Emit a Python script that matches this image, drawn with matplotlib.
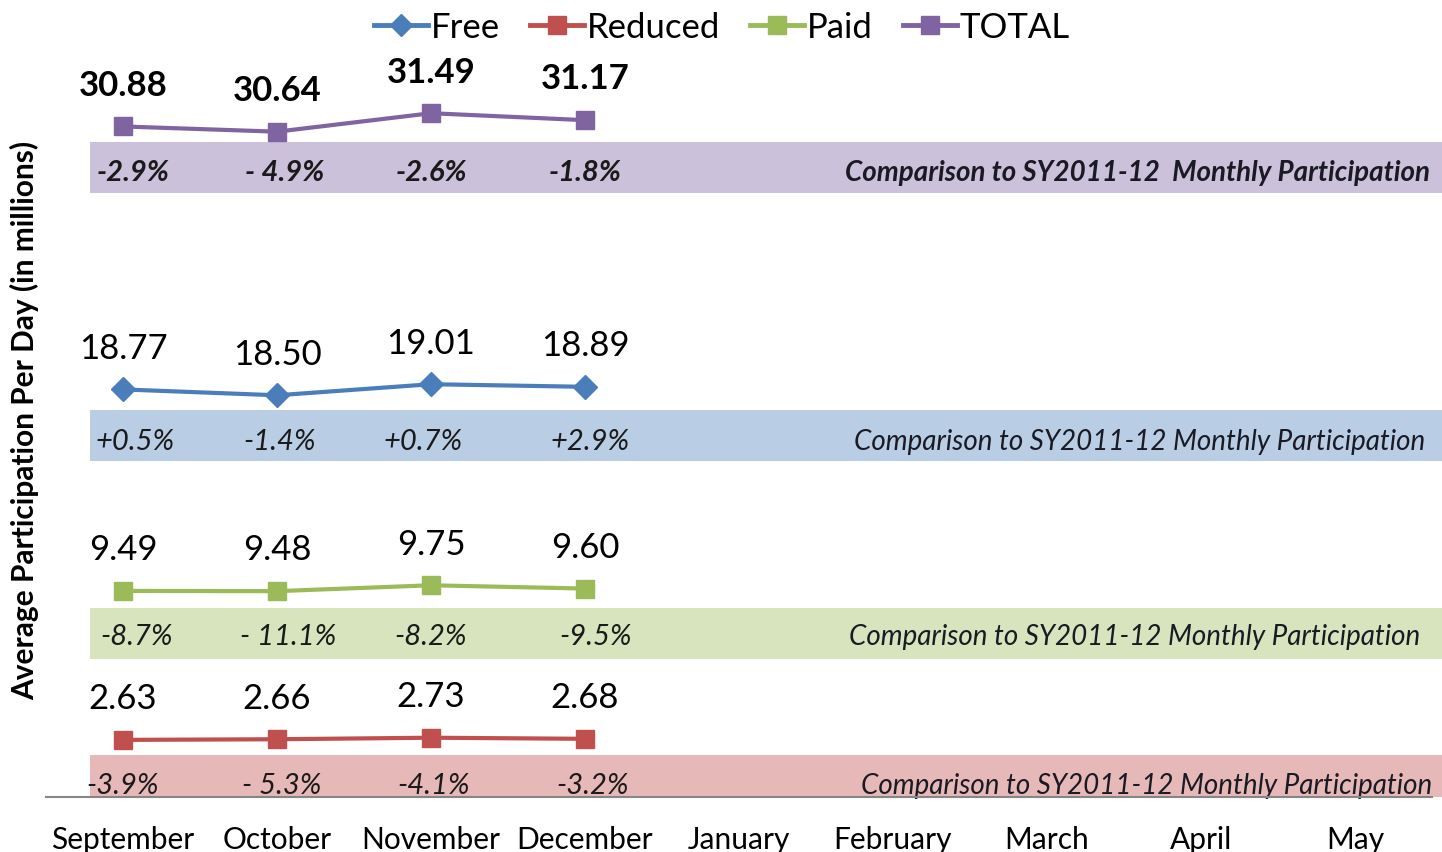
import matplotlib
matplotlib.use("Agg")
import matplotlib.pyplot as plt
from matplotlib.patches import Rectangle
from matplotlib.lines import Line2D

# ---------------- data ----------------
months = ['September', 'October', 'November', 'December', 'January',
          'February', 'March', 'April', 'May']
free = [18.77, 18.50, 19.01, 18.89]
reduced = [2.63, 2.66, 2.73, 2.68]
paid = [9.49, 9.48, 9.75, 9.60]
total = [30.88, 30.64, 31.49, 31.17]

free_pct = ['+0.5%', '-1.4%', '+0.7%', '+2.9%']
reduced_pct = ['-3.9%', '- 5.3%', '-4.1%', '-3.2%']
paid_pct = ['-8.7%', '- 11.1%', '-8.2%', '-9.5%']
total_pct = ['-2.9%', '- 4.9%', '-2.6%', '-1.8%']

comparison_label = 'Comparison to SY2011-12 Monthly Participation'
comparison_label_total = 'Comparison to SY2011-12  Monthly Participation'
y_label = 'Average Participation Per Day (in millions)'

# ---------------- style ----------------
FONT = ['Lato', 'DejaVu Sans']
plt.rcParams['font.family'] = FONT

C_FREE, C_RED, C_PAID, C_TOT = '#4A7EBB', '#C0504D', '#9BBB59', '#8064A2'
B_FREE, B_RED, B_PAID, B_TOT = '#B9CDE5', '#E6B9B8', '#D7E4BD', '#CCC1DA'

fig = plt.figure(figsize=(14.42, 8.53), dpi=100)
ax = fig.add_axes([46 / 1442, (853 - 798) / 853, 1386 / 1442, 760 / 853])
ax.set_xlim(-0.5, len(months) - 0.5)
ax.set_ylim(0, 35)

x = list(range(len(months)))
n = len(total)

# layout: values, color, marker, ms, band colour, band (lo, hi), text y,
# pct strings, pct x-offsets, comparison label, label right edge, bold
series = [
    (total, C_TOT, 's', 13, B_TOT, (27.83, 30.18), 28.8, total_pct,
     [0.065, 0.05, 0.0, 0.0], comparison_label_total, 8.487, True),
    (free, C_FREE, 'D', 12, B_FREE, (15.48, 17.83), 16.4, free_pct,
     [0.08, 0.02, -0.05, 0.03], comparison_label, 8.455, False),
    (paid, C_PAID, 's', 13, B_PAID, (6.36, 8.71), 7.4, paid_pct,
     [0.09, 0.07, 0.0, 0.07], comparison_label, 8.422, False),
    (reduced, C_RED, 's', 13, B_RED, (0.0, 1.94), 0.55, reduced_pct,
     [0.0, 0.03, 0.02, 0.05], comparison_label, 8.5, False),
]

band_x0, band_x1 = -0.214, 8.57
for (vals, col, mk, ms, bcol, (lo, hi), ty, pct, offs, clabel, cx,
     bold) in series:
    ax.add_patch(Rectangle((band_x0, lo), band_x1 - band_x0, hi - lo,
                           facecolor=bcol, edgecolor='none', zorder=1,
                           clip_on=False))
    ax.plot(x[:n], vals, color=col, lw=3, marker=mk, ms=ms, zorder=3)
    for xi, v in zip(x[:n], vals):
        ax.annotate(f'{v:.2f}', (xi, v), xytext=(0, 30),
                    textcoords='offset points', ha='center', va='center',
                    fontsize=25, fontweight='bold' if bold else 'normal',
                    color='black', zorder=4)
    for xi, s, o in zip(x[:n], pct, offs):
        ax.text(xi + o, ty, s, ha='center', va='center', fontsize=21,
                style='italic', fontweight='bold' if bold else 'normal',
                color='#1a1a1a', zorder=4)
    ax.text(cx, ty, clabel, ha='right', va='center',
            fontsize=20, style='italic',
            fontweight='bold' if bold else 'normal',
            color='#1a1a24', zorder=4, clip_on=False)

# axes styling
for sp in ('top', 'right', 'left'):
    ax.spines[sp].set_visible(False)
ax.spines['bottom'].set_color('#868686')
ax.spines['bottom'].set_linewidth(1.5)
ax.spines['bottom'].set_zorder(5)
ax.set_yticks([])
ax.set_xticks(x)
ax.set_xticklabels(months, fontsize=21.5)
ax.tick_params(axis='x', length=0, pad=20)

fig.text(25 / 1442, (853 - 420) / 853, y_label, rotation=90,
         ha='center', va='center', fontsize=21.5, fontweight='bold')

handles = [
    Line2D([], [], color=C_FREE, lw=3.5, marker='D', ms=11),
    Line2D([], [], color=C_RED, lw=3.5, marker='s', ms=13),
    Line2D([], [], color=C_PAID, lw=3.5, marker='s', ms=13),
    Line2D([], [], color=C_TOT, lw=3.5, marker='s', ms=13),
]
fig.legend(handles, ['Free', 'Reduced', 'Paid', 'TOTAL'], loc='center',
           bbox_to_anchor=(722 / 1442, (853 - 28) / 853), ncol=4,
           frameon=False, fontsize=25, handlelength=1.55, handletextpad=0.1,
           columnspacing=0.85, borderpad=0.2)

fig.savefig('out.png', dpi=100)
